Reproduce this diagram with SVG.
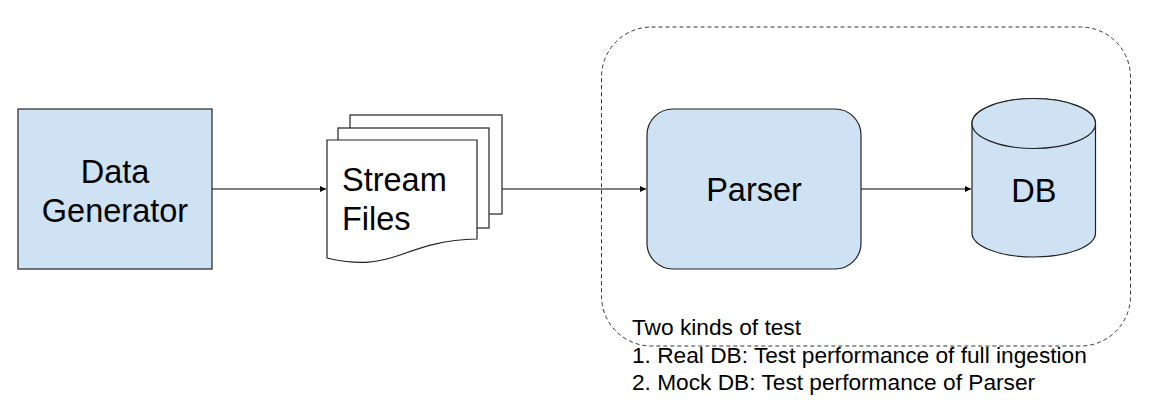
<svg xmlns="http://www.w3.org/2000/svg" width="1170" height="413" viewBox="0 0 1170 413">
<defs>
<style>
.node{fill:#cfe2f3;stroke:#222;stroke-width:1.2}
.doc{fill:#fff;stroke:#222;stroke-width:1.2}
.big{font-family:"Liberation Sans",Arial,sans-serif;font-size:32.5px;fill:#000}
.note{font-family:"Liberation Sans",Arial,sans-serif;font-size:22.7px;fill:#000}
.conn{stroke:#000;stroke-width:1;fill:none}
</style>
<marker id="arr" markerWidth="8" markerHeight="8" refX="6" refY="3" orient="auto" markerUnits="userSpaceOnUse">
<path d="M0,0 L6,3 L0,6 Z" fill="#000"/>
</marker>
</defs>
<rect width="1170" height="413" fill="#fff"/>
<g id="test-boundary">
<rect x="601.5" y="27" width="529" height="319" rx="50" ry="50" fill="none" stroke="#333" stroke-width="1" stroke-dasharray="4,3"/>
<text class="note" x="632" y="335">Two kinds of test</text>
<text class="note" x="632" y="363">1. Real DB: Test performance of full ingestion</text>
<text class="note" x="632" y="390">2. Mock DB: Test performance of Parser</text>
</g>
<g id="connectors">
<line class="conn" x1="212" y1="189" x2="326" y2="189" marker-end="url(#arr)"/>
<line class="conn" x1="502" y1="189" x2="646" y2="189" marker-end="url(#arr)"/>
<line class="conn" x1="861" y1="189" x2="971" y2="189" marker-end="url(#arr)"/>
</g>
<g id="data-generator">
<rect class="node" x="18" y="109" width="194" height="160"/>
<text class="big" x="115" y="183" text-anchor="middle">Data</text>
<text class="big" x="115" y="222" text-anchor="middle">Generator</text>
</g>
<g id="stream-files">
<rect class="doc" x="350" y="115" width="152" height="99"/>
<rect class="doc" x="338" y="128" width="151" height="100"/>
<path class="doc" d="M327,140 H477 V239 C440,240 420,248 400,255 C380,262 360,266 327,258 Z"/>
<text class="big" x="342" y="191">Stream</text>
<text class="big" x="342" y="230">Files</text>
</g>
<g id="parser">
<rect class="node" x="647" y="109" width="214" height="160" rx="26" ry="26"/>
<text class="big" x="754" y="201" text-anchor="middle">Parser</text>
</g>
<g id="db">
<path class="node" d="M972,123.5 V233 A61.75,24 0 0 0 1095.5,233 V123.5 A61.75,25 0 0 0 972,123.5 Z"/>
<ellipse class="node" cx="1033.75" cy="123.5" rx="61.75" ry="25"/>
<text class="big" x="1033.75" y="202" text-anchor="middle">DB</text>
</g>
</svg>
